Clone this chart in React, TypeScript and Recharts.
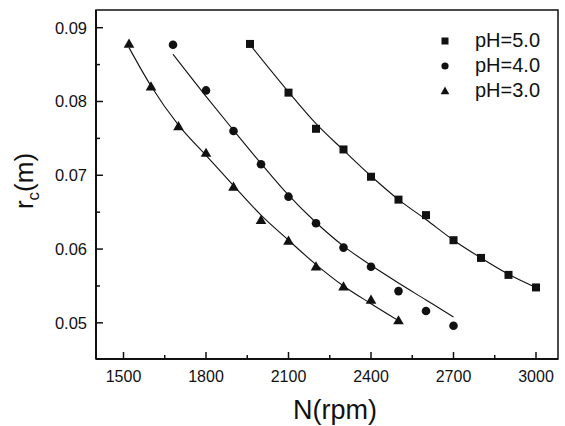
import React from 'react';
import { ComposedChart, Line, Scatter, XAxis, YAxis, ReferenceArea, Legend } from 'recharts';

// Measured points
const ph5N = [1960, 2100, 2200, 2300, 2400, 2500, 2600, 2700, 2800, 2900, 3000];
const ph5R = [0.0878, 0.0812, 0.0763, 0.0735, 0.0698, 0.0667, 0.0646, 0.0612, 0.0588, 0.0565, 0.0548];
const ph4N = [1680, 1800, 1900, 2000, 2100, 2200, 2300, 2400, 2500, 2600, 2700];
const ph4R = [0.0877, 0.0815, 0.076, 0.0715, 0.0671, 0.0635, 0.0602, 0.0576, 0.0543, 0.0516, 0.0496];
const ph3N = [1520, 1600, 1700, 1800, 1900, 2000, 2100, 2200, 2300, 2400, 2500];
const ph3R = [0.0878, 0.082, 0.0766, 0.073, 0.0684, 0.0639, 0.0611, 0.0576, 0.0549, 0.0531, 0.0503];

// Fitted curves
const fit5N = [1960, 2100, 2200, 2300, 2400, 2500, 2600, 2700, 2800, 2900, 3000];
const fit5R = [0.0877, 0.0813, 0.077, 0.0734, 0.0699, 0.0667, 0.064, 0.0612, 0.0588, 0.0566, 0.0548];
const fit4N = [1680, 1800, 1900, 2000, 2100, 2200, 2300, 2400, 2500, 2600, 2700];
const fit4R = [0.0864, 0.0807, 0.0761, 0.0716, 0.0673, 0.0636, 0.0604, 0.0578, 0.0554, 0.0531, 0.0508];
const fit3N = [1520, 1600, 1700, 1800, 1900, 2000, 2100, 2200, 2300, 2400, 2500];
const fit3R = [0.0873, 0.0821, 0.0768, 0.0727, 0.0686, 0.0646, 0.0612, 0.0579, 0.055, 0.0526, 0.0503];

const seriesNames = ['pH=5.0', 'pH=4.0', 'pH=3.0'];
const xTicks = [1500, 1650, 1800, 1950, 2100, 2250, 2400, 2550, 2700, 2850, 3000];
const yTicks = [0.05, 0.055, 0.06, 0.065, 0.07, 0.075, 0.08, 0.085, 0.09];
const xDomain = [1400, 3080];
const yDomain = [0.0451, 0.0924];

const toRows = (ns: number[], rs: number[]) => ns.map((n, i) => ({ n, r: rs[i] }));

const FONT = '"Liberation Sans", Arial, sans-serif';
const INK = '#111';

const XTick = (props: any) => {
  const { x, y, payload } = props;
  const v = payload.value;
  const major = v % 300 === 0;
  return (
    <g>
      <line x1={x} y1={y} x2={x} y2={y - (major ? 7 : 4)} stroke={INK} strokeWidth={1.5} />
      {major && (
        <text x={x} y={y + 23} textAnchor="middle" fontSize={16} fontFamily={FONT} fill={INK}>
          {v}
        </text>
      )}
    </g>
  );
};

const YTick = (props: any) => {
  const { x, y, payload } = props;
  const v = payload.value;
  const major = Math.round(v * 1000) % 10 === 0;
  return (
    <g>
      <line x1={x} y1={y} x2={x + (major ? 7 : 4)} y2={y} stroke={INK} strokeWidth={1.5} />
      {major && (
        <text x={x - 9} y={y + 6} textAnchor="end" fontSize={16.5} fontFamily={FONT} fill={INK}>
          {v.toFixed(2)}
        </text>
      )}
    </g>
  );
};

const Square = (p: any) => <rect x={p.cx - 4} y={p.cy - 4} width={8} height={8} fill={INK} />;
const Circle = (p: any) => <circle cx={p.cx} cy={p.cy} r={4.3} fill={INK} />;
const Tri = (p: any) => (
  <polygon
    points={`${p.cx},${p.cy - 5.5} ${p.cx - 5.3},${p.cy + 3.7} ${p.cx + 5.3},${p.cy + 3.7}`}
    fill={INK}
  />
);

const icons = [
  <rect key="s" x={4.5} y={4.5} width={7} height={7} fill={INK} />,
  <circle key="c" cx={8} cy={8} r={3.6} fill={INK} />,
  <polygon key="t" points="8,3.5 3.7,11.2 12.3,11.2" fill={INK} />,
];

const LegendBox = () => (
  <div style={{ fontFamily: FONT, fontSize: 20, color: INK }}>
    {seriesNames.map((name, i) => (
      <div key={name} style={{ display: 'flex', alignItems: 'center', height: 25, lineHeight: '25px' }}>
        <svg width={16} height={16}>{icons[i]}</svg>
        <span style={{ marginLeft: 22 }}>{name}</span>
      </div>
    ))}
  </div>
);

const XTitle = () => (
  <text x={335} y={419} textAnchor="middle" fontSize={27} fontFamily={FONT} fill={INK}>
    N(rpm)
  </text>
);

const YTitle = () => (
  <text
    transform="translate(33,181) rotate(-90)"
    textAnchor="middle"
    fontSize={26}
    fontFamily={FONT}
    fill={INK}
  >
    r
    <tspan fontSize={17} dy={6}>c</tspan>
    <tspan dy={-6}>(m)</tspan>
  </text>
);

export default function App() {
  return (
    <div style={{ position: 'absolute', left: 0, top: 0, width: 565, height: 426, background: '#fff' }}>
      <ComposedChart width={565} height={426} margin={{ top: 10, right: 7, left: 0, bottom: 0 }}>
        <XAxis
          dataKey="n"
          type="number"
          domain={xDomain}
          ticks={xTicks}
          interval={0}
          allowDataOverflow
          tickSize={0}
          tickMargin={0}
          tick={<XTick />}
          height={67}
          axisLine={{ stroke: INK, strokeWidth: 2 }}
          label={{ content: <XTitle /> }}
        />
        <YAxis
          dataKey="r"
          type="number"
          domain={yDomain}
          ticks={yTicks}
          interval={0}
          allowDataOverflow
          tickSize={0}
          tickMargin={0}
          tick={<YTick />}
          width={96}
          axisLine={{ stroke: INK, strokeWidth: 2 }}
          label={{ content: <YTitle /> }}
        />
        <ReferenceArea
          x1={xDomain[0]}
          x2={xDomain[1]}
          y1={yDomain[0]}
          y2={yDomain[1]}
          fill="none"
          stroke={INK}
          strokeWidth={1.5}
          ifOverflow="visible"
        />
        <Line data={toRows(fit5N, fit5R)} dataKey="r" type="monotone" stroke={INK} strokeWidth={1.1} dot={false} isAnimationActive={false} legendType="none" />
        <Line data={toRows(fit4N, fit4R)} dataKey="r" type="monotone" stroke={INK} strokeWidth={1.1} dot={false} isAnimationActive={false} legendType="none" />
        <Line data={toRows(fit3N, fit3R)} dataKey="r" type="monotone" stroke={INK} strokeWidth={1.1} dot={false} isAnimationActive={false} legendType="none" />
        <Scatter name={seriesNames[0]} data={toRows(ph5N, ph5R)} dataKey="r" shape={<Square />} isAnimationActive={false} />
        <Scatter name={seriesNames[1]} data={toRows(ph4N, ph4R)} dataKey="r" shape={<Circle />} isAnimationActive={false} />
        <Scatter name={seriesNames[2]} data={toRows(ph3N, ph3R)} dataKey="r" shape={<Tri />} isAnimationActive={false} />
        <Legend
          layout="vertical"
          align="center"
          verticalAlign="middle"
          content={<LegendBox />}
          wrapperStyle={{ position: 'absolute', top: 28, left: 437, width: 'auto', height: 'auto' }}
        />
      </ComposedChart>
    </div>
  );
}
